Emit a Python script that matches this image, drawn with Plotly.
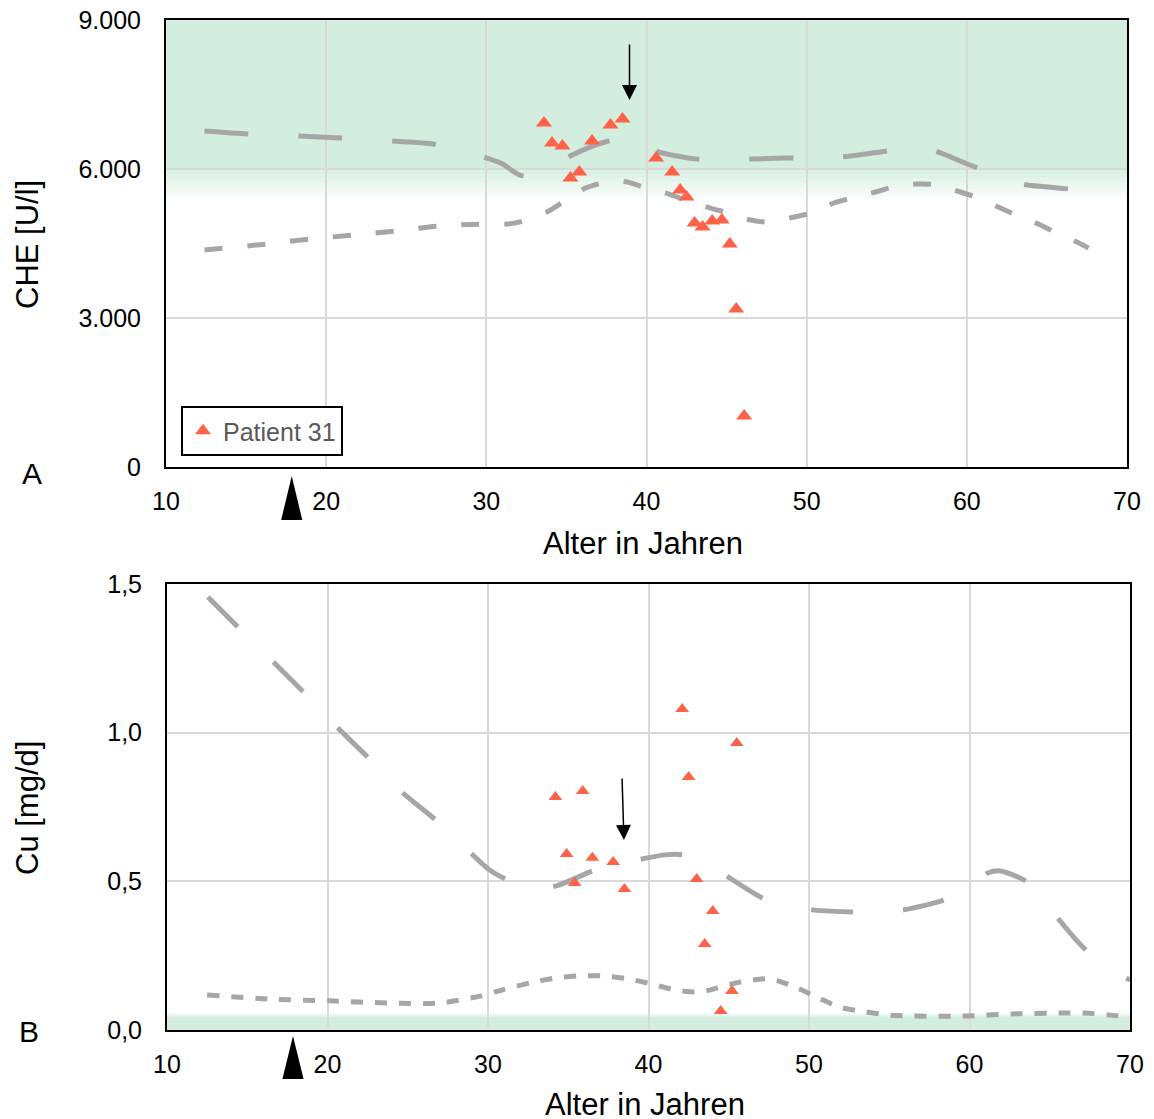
import plotly.graph_objects as go

# ---------------- data ----------------
# Panel A: CHE [U/l]
upper_age_A = [12.4, 15.1, 18.3, 20.9, 24.1, 26.7, 29.8, 30.9, 32.1, 33.0, 34.0, 35.1, 37.4, 39.0,
               40.6, 43.1, 46.3, 48.8, 52.0, 54.6, 56.5, 57.8, 60.2, 63.1, 65.7, 67.3]
upper_A = [6765, 6704, 6664, 6624, 6563, 6503, 6241, 6120, 5879, 5860, 6030, 6241, 6543, 6620,
           6362, 6201, 6201, 6221, 6241, 6342, 6423, 6382, 6080, 5718, 5617, 5577]

lower_age_A = [12.4, 16.3, 19.0, 21.7, 24.4, 27.0, 29.8, 31.3, 32.3, 33.9, 34.8, 36.2, 37.9, 38.8,
               39.8, 41.4, 42.4, 44.0, 45.1, 46.5, 47.6, 49.2, 50.3, 51.7, 52.8, 54.3, 55.4, 56.9,
               58.1, 59.6, 60.7, 62.1, 63.2, 64.6, 65.6, 67.0, 67.6]
lower_A = [4369, 4490, 4590, 4671, 4751, 4852, 4892, 4892, 4953, 5154, 5335, 5617, 5758, 5738,
           5637, 5496, 5375, 5214, 5114, 4973, 4933, 5033, 5114, 5315, 5416, 5537, 5637, 5698,
           5678, 5537, 5416, 5214, 5053, 4872, 4711, 4510, 4409]

patient_age_A = [33.6, 34.1, 34.75, 35.25, 35.8, 36.6, 37.75, 38.5, 40.6, 41.6, 42.1, 42.5,
                 43.0, 43.5, 44.1, 44.7, 45.2, 45.6, 46.1]
patient_A = [6926, 6523, 6463, 5818, 5939, 6563, 6885, 7006, 6221, 5939, 5577, 5436,
             4912, 4832, 4953, 4973, 4490, 3181, 1027]

# Panel B: Cu [mg/d]
upper_age_B = [12.55, 14.4, 16.7, 18.5, 20.65, 22.5, 24.7, 26.6, 28.6, 30.1, 31.2, 32.6, 34.2,
               36.5, 37.9, 39.6, 41.0, 42.15, 43.5, 44.95, 47.1, 48.8, 50.2, 52.8, 54.4, 55.9,
               58.4, 60.0, 61.15, 61.9, 63.6, 64.7, 65.6, 67.3, 68.75, 70.0]
upper_B = [1.456, 1.356, 1.234, 1.137, 1.016, 0.918, 0.797, 0.713, 0.612, 0.538, 0.505, 0.478,
           0.484, 0.535, 0.558, 0.575, 0.589, 0.589, 0.562, 0.515, 0.444, 0.414, 0.404, 0.397,
           0.397, 0.404, 0.437, 0.478, 0.528, 0.535, 0.498, 0.437, 0.370, 0.266, 0.202, 0.168]

lower_age_B = [12.5, 16.4, 20.15, 23.7, 27.0, 29.5, 30.9, 32.8, 34.2, 35.7, 37.2, 38.7, 40.2,
               41.65, 43.2, 44.7, 46.1, 47.6, 49.1, 50.6, 51.9, 53.5, 55.05, 56.5, 59.6, 62.7,
               65.8, 67.2, 68.75, 70.0]
lower_B = [0.118, 0.104, 0.098, 0.091, 0.091, 0.114, 0.135, 0.161, 0.175, 0.182, 0.182, 0.172,
           0.155, 0.135, 0.128, 0.148, 0.165, 0.172, 0.145, 0.108, 0.077, 0.061, 0.050, 0.047,
           0.047, 0.054, 0.057, 0.057, 0.050, 0.044]

patient_age_B = [34.2, 34.9, 35.4, 35.9, 36.5, 37.8, 38.5, 42.1, 42.5, 43.0, 43.5, 44.0, 44.5,
                 45.2, 45.5]
patient_B = [0.784, 0.592, 0.494, 0.804, 0.579, 0.565, 0.474, 1.080, 0.851, 0.508, 0.289, 0.400,
             0.064, 0.131, 0.965]

# reference ranges (green areas)
ref_A = [6000, 9000]      # CHE normal range (fade below lower bound)
ref_B = [0.0, 0.045]      # Cu normal range

# events
arrow_A = dict(age=38.94, tip=7389, tail=8537)
arrow_B = dict(age=38.47, tip=0.639, tail=0.851, tail_age=38.35)
event_age = 17.85

x_ticks = [10, 20, 30, 40, 50, 60, 70]

# ---------------- styles ----------------
GRAY = "#a6a6a6"
RED = "#ff6347"
GREEN = (211, 238, 222)
GRID = "#d9d9d9"
FONT = "Liberation Sans, Arial, sans-serif"

W, H = 1154, 1119

def py(p):  # pixel y -> paper y
    return 1 - p / H

def px(p):
    return p / W

fig = go.Figure()

# Panel A traces
fig.add_trace(go.Scatter(x=upper_age_A, y=upper_A, mode="lines", xaxis="x", yaxis="y",
                         line=dict(color=GRAY, width=5, dash="44px,50px", shape="spline", smoothing=0.8),
                         showlegend=False, hoverinfo="skip"))
fig.add_trace(go.Scatter(x=lower_age_A, y=lower_A, mode="lines", xaxis="x", yaxis="y",
                         line=dict(color=GRAY, width=5, dash="18px,25px", shape="spline", smoothing=0.8),
                         showlegend=False, hoverinfo="skip"))
fig.add_trace(go.Scatter(x=patient_age_A, y=patient_A, mode="markers", xaxis="x", yaxis="y",
                         name="Patient 31",
                         marker=dict(symbol="triangle-up", size=14, color=RED),
                         showlegend=True))

# Panel B traces
fig.add_trace(go.Scatter(x=upper_age_B, y=upper_B, mode="lines", xaxis="x2", yaxis="y2",
                         line=dict(color=GRAY, width=5, dash="42px,50px", shape="spline", smoothing=0.8),
                         showlegend=False, hoverinfo="skip"))
fig.add_trace(go.Scatter(x=lower_age_B, y=lower_B, mode="lines", xaxis="x2", yaxis="y2",
                         line=dict(color=GRAY, width=5, dash="12px,12px", shape="spline", smoothing=0.8),
                         showlegend=False, hoverinfo="skip"))
fig.add_trace(go.Scatter(x=patient_age_B, y=patient_B, mode="markers", xaxis="x2", yaxis="y2",
                         marker=dict(symbol="triangle-up", size=12, color=RED),
                         showlegend=False))

shapes = []
# green reference area panel A: solid + fade
shapes.append(dict(type="rect", xref="x domain", yref="y", x0=0, x1=1, y0=ref_A[0], y1=ref_A[1],
                   fillcolor="rgb(%d,%d,%d)" % GREEN, line=dict(width=0), layer="below"))
n = 24
fade_A = 650
for i in range(n):
    a = 1 - (i + 0.5) / n
    y1 = ref_A[0] - fade_A * i / n
    y0 = ref_A[0] - fade_A * (i + 1) / n
    shapes.append(dict(type="rect", xref="x domain", yref="y", x0=0, x1=1, y0=y0, y1=y1,
                       fillcolor="rgba(%d,%d,%d,%.3f)" % (GREEN + (a,)), line=dict(width=0),
                       layer="below"))
# panel B green band
shapes.append(dict(type="rect", xref="x2 domain", yref="y2", x0=0, x1=1, y0=ref_B[0], y1=ref_B[1],
                   fillcolor="rgb(%d,%d,%d)" % GREEN, line=dict(width=0), layer="below"))
fade_B = 0.012
for i in range(8):
    a = 1 - (i + 0.5) / 8
    y0 = ref_B[1] + fade_B * i / 8
    y1 = ref_B[1] + fade_B * (i + 1) / 8
    shapes.append(dict(type="rect", xref="x2 domain", yref="y2", x0=0, x1=1, y0=y0, y1=y1,
                       fillcolor="rgba(%d,%d,%d,%.3f)" % (GREEN + (a,)), line=dict(width=0),
                       layer="below"))

# black event triangles below x axes
hw = 0.66  # half width in years
shapes.append(dict(type="path", xref="x", yref="paper",
                   path="M%f,%f L%f,%f L%f,%f Z" % (event_age - hw, py(520), event_age + hw, py(520),
                                                   event_age, py(476)),
                   fillcolor="black", line=dict(width=0)))
shapes.append(dict(type="path", xref="x2", yref="paper",
                   path="M%f,%f L%f,%f L%f,%f Z" % (event_age - hw, py(1079), event_age + hw, py(1079),
                                                   event_age, py(1036)),
                   fillcolor="black", line=dict(width=0)))


def label(text, xp, yp, angle=0, size=31):
    return dict(text=text, x=px(xp), y=py(yp), xref="paper", yref="paper",
                xanchor="center", yanchor="middle", textangle=angle,
                showarrow=False, font=dict(size=size, color="black", family=FONT))


annotations = [
    dict(x=arrow_A["age"], y=arrow_A["tip"], ax=arrow_A["age"], ay=arrow_A["tail"],
         xref="x", yref="y", axref="x", ayref="y", showarrow=True, arrowhead=2,
         arrowsize=2, arrowwidth=1.5, arrowcolor="black", text=""),
    dict(x=arrow_B["age"], y=arrow_B["tip"], ax=arrow_B["tail_age"], ay=arrow_B["tail"],
         xref="x2", yref="y2", axref="x2", ayref="y2", showarrow=True, arrowhead=2,
         arrowsize=2, arrowwidth=1.5, arrowcolor="black", text=""),
    label("Alter in Jahren", 643, 543),
    label("Alter in Jahren", 645, 1104),
    label("CHE [U/l]", 27, 245, angle=-90),
    label("Cu [mg/d]", 27, 808, angle=-90),
    label("A", 32, 473, size=30),
    label("B", 29, 1031, size=30),
]

axis_common = dict(showgrid=True, gridcolor=GRID, gridwidth=2, zeroline=False,
                   showline=True, linecolor="black", linewidth=2, mirror=True,
                   ticks="", automargin=False,
                   tickfont=dict(size=25, color="black", family=FONT))
xax = dict(axis_common, ticklabelstandoff=11)
yax = dict(axis_common, ticklabelstandoff=18)

fig.update_layout(
    width=W, height=H,
    margin=dict(l=0, r=0, t=0, b=0, pad=0),
    paper_bgcolor="white", plot_bgcolor="white",
    separators=",.",
    font=dict(family=FONT),
    xaxis=dict(xax, domain=[px(166), px(1127)], range=[10, 70], tickvals=x_ticks,
               anchor="y"),
    yaxis=dict(yax, domain=[py(467), py(20)], range=[0, 9000], dtick=3000,
               tickformat=",.0f", anchor="x"),
    xaxis2=dict(xax, domain=[px(167), px(1130)], range=[10, 70], tickvals=x_ticks,
                anchor="y2"),
    yaxis2=dict(yax, domain=[py(1030), py(584)], range=[0, 1.5], dtick=0.5,
                tickformat=".1f", anchor="x2"),
    shapes=shapes,
    annotations=annotations,
    legend=dict(x=px(181), y=py(406), xanchor="left", yanchor="top",
                bordercolor="black", borderwidth=2, bgcolor="white",
                font=dict(size=25, color="#595959", family=FONT)),
    showlegend=True,
)

fig.write_html("out.html")
